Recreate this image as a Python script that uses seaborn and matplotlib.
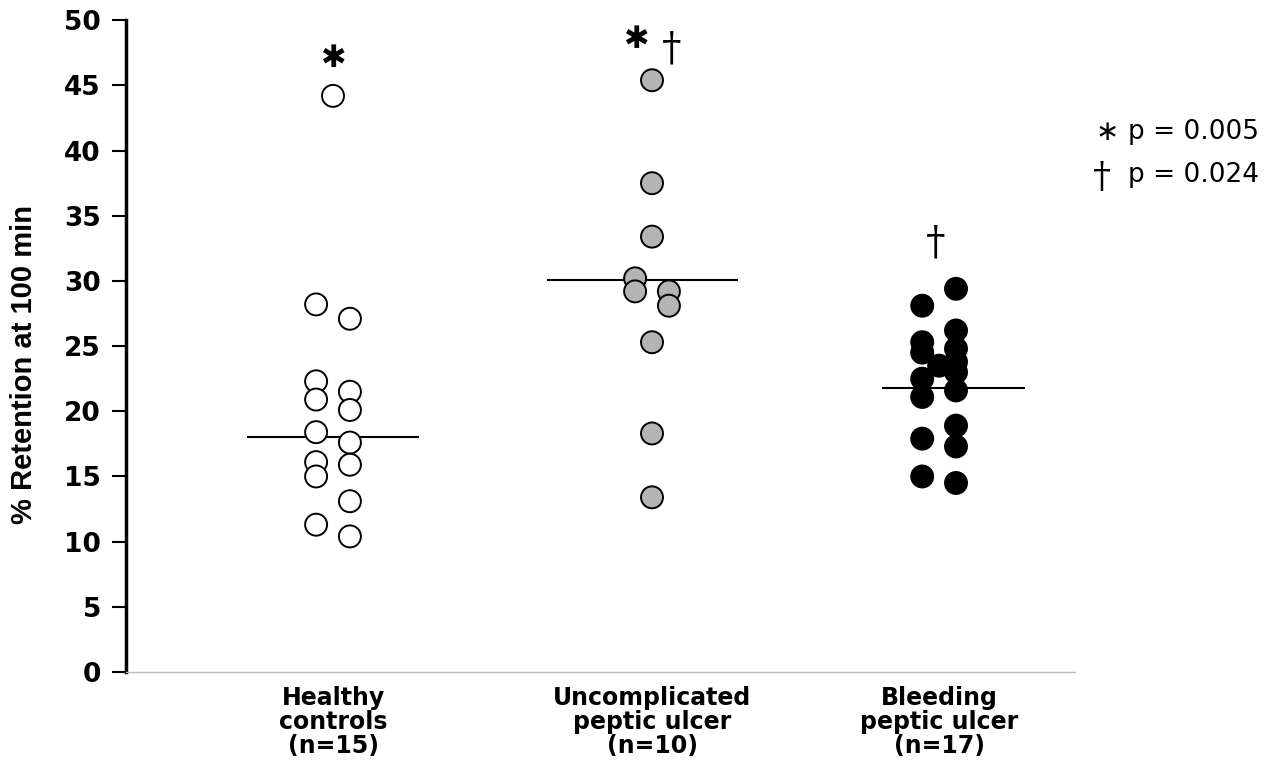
import pandas as pd
import seaborn as sns
import matplotlib.pyplot as plt

# values (% retention at 100 min)
groups = ['Healthy\ncontrols\n(n=15)', 'Uncomplicated\npeptic ulcer\n(n=10)', 'Bleeding\npeptic ulcer\n(n=17)']
healthy_mid = [44.2]
healthy_left = [28.2, 22.3, 20.9, 18.4, 16.1, 15.0, 11.3]
healthy_right = [27.1, 21.5, 20.1, 17.6, 15.9, 13.1, 10.4]
uncomp_mid = [45.4, 37.5, 33.4, 25.3, 18.3, 13.4]
uncomp_left = [30.2, 29.2]
uncomp_right = [29.2, 28.1]
bleed_mid = [23.5]
bleed_left = [28.1, 25.3, 24.5, 22.5, 21.1, 17.9, 15.0]
bleed_right = [29.4, 26.2, 24.8, 23.8, 23.0, 21.6, 18.9, 17.3, 14.5]
medians = [18.0, 30.1, 21.8]
legend_symbols = ['\u2217', '\u2020']
legend_labels = ['p = 0.005', 'p = 0.024']

sns.set_style('white')
plt.rcParams['font.family'] = ['Liberation Sans', 'DejaVu Sans']
plt.rcParams['text.color'] = 'black'
plt.rcParams['axes.labelcolor'] = 'black'
plt.rcParams['xtick.color'] = 'black'
plt.rcParams['ytick.color'] = 'black'

xpos = [0.0, 1.0, 1.9]   # group centres on the axis
dx = 0.053               # side-by-side offset of overlapping points

rows = []
cols = [(healthy_mid, healthy_left, healthy_right),
        (uncomp_mid, uncomp_left, uncomp_right),
        (bleed_mid, bleed_left, bleed_right)]
for g, (mid, left, right) in enumerate(cols):
    for v in mid:
        rows.append((groups[g], xpos[g], v))
    for v in left:
        rows.append((groups[g], xpos[g] - dx, v))
    for v in right:
        rows.append((groups[g], xpos[g] + dx, v))
data = pd.DataFrame(rows, columns=['group', 'x', 'retention'])

fig = plt.figure(figsize=(12.79, 7.8), dpi=100)
ax = fig.add_axes([0.0985, 0.1385, 0.742, 0.8355])

pal = {groups[0]: 'white', groups[1]: '#b4b4b4', groups[2]: 'black'}
sns.scatterplot(data=data, x='x', y='retention', hue='group', palette=pal,
                s=250, edgecolor='black', linewidth=1.4, legend=False, ax=ax, zorder=3)

# median lines
half = [(0.27, 0.27), (0.33, 0.27), (0.18, 0.27)]
for g in range(3):
    ax.hlines(medians[g], xpos[g] - half[g][0], xpos[g] + half[g][1], color='black', lw=1.5, zorder=2)

ax.set_xlim(-0.649, 2.326)
ax.set_ylim(0, 50)
ax.set_yticks(range(0, 51, 5))
ax.set_xticks(xpos)
ax.set_xticklabels(groups, fontsize=17, fontweight='bold', linespacing=1.0, family='DejaVu Sans')
ax.tick_params(axis='x', length=0, pad=10)
ax.tick_params(axis='y', length=10, width=1.5, direction='out', pad=8, left=True)
for t in ax.get_yticklabels():
    t.set_fontweight('bold')
    t.set_fontsize(19)
    t.set_family('DejaVu Sans')
ax.set_xlabel('')
ax.set_ylabel('% Retention at 100 min', fontsize=21, fontweight='bold')
ax.yaxis.set_label_coords(-0.093, 0.472)

sns.despine(ax=ax, top=True, right=True)
ax.spines['left'].set_linewidth(2.5)
ax.spines['left'].set_color('black')
ax.spines['bottom'].set_linewidth(1)
ax.spines['bottom'].set_color('#bbbbbb')

# significance marks
ax.text(0.0, 47.1, '\u2731', ha='center', va='center', fontsize=22, family='DejaVu Sans')
ax.text(0.95, 48.5, '\u2731', ha='center', va='center', fontsize=22, family='DejaVu Sans')
ax.text(1.06, 47.8, '\u2020', ha='center', va='center', fontsize=28, family='DejaVu Serif')
ax.text(1.89, 32.9, '\u2020', ha='center', va='center', fontsize=28, family='DejaVu Serif')

# key for the marks
fig.text(1107 / 1279, 1 - 132 / 780, legend_symbols[0], fontsize=20, va='center', ha='center', family='DejaVu Sans')
fig.text(1102 / 1279, 1 - 177 / 780, legend_symbols[1], fontsize=26, va='center', ha='center', family='DejaVu Serif')
fig.text(1128 / 1279, 1 - 132 / 780, legend_labels[0], fontsize=19, va='center', ha='left', family='DejaVu Sans')
fig.text(1128 / 1279, 1 - 175 / 780, legend_labels[1], fontsize=19, va='center', ha='left', family='DejaVu Sans')

fig.savefig('out.png', dpi=100)
